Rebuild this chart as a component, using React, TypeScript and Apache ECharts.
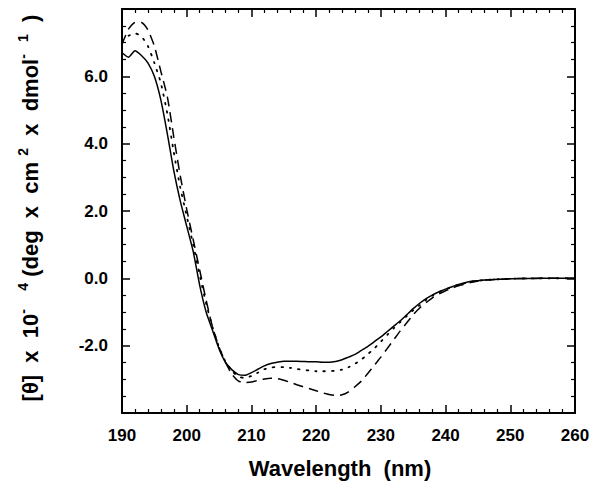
import React, { useEffect, useRef } from 'react';
import * as echarts from 'echarts';

const wavelengths = [
  190, 191, 192, 193, 194, 195, 196, 197, 198, 199,
  200, 201, 202, 203, 204, 205, 206, 207, 208, 209,
  210, 211, 212, 213, 214, 215, 216, 217, 218, 219,
  220, 221, 222, 223, 224, 225, 226, 227, 228, 229,
  230, 231, 232, 233, 234, 235, 236, 237, 238, 239,
  240, 241, 242, 243, 244, 245, 246, 247, 248, 250, 255, 260,
];

const solidSeries = [
  6.70, 6.57, 6.76, 6.62, 6.40, 6.00, 5.30, 4.30, 3.20, 2.30,
  1.55, 0.80, -0.20, -1.00, -1.55, -2.10, -2.50, -2.72, -2.86, -2.88,
  -2.80, -2.70, -2.60, -2.53, -2.49, -2.46, -2.46, -2.46, -2.47, -2.48,
  -2.48, -2.49, -2.49, -2.47, -2.42, -2.34, -2.26, -2.14, -2.02, -1.88,
  -1.74, -1.58, -1.42, -1.26, -1.08, -0.90, -0.74, -0.60, -0.49, -0.40,
  -0.32, -0.25, -0.18, -0.13, -0.09, -0.07, -0.05, -0.04, -0.03, -0.01, 0, 0,
];

const dottedSeries = [
  7.05, 7.20, 7.28, 7.18, 6.90, 6.40, 5.80, 4.90, 3.75, 2.70,
  1.85, 1.00, 0.10, -0.75, -1.45, -2.05, -2.48, -2.75, -2.92, -2.96,
  -2.90, -2.80, -2.70, -2.65, -2.63, -2.64, -2.66, -2.69, -2.72, -2.74,
  -2.76, -2.76, -2.76, -2.74, -2.71, -2.64, -2.54, -2.41, -2.25, -2.08,
  -1.88, -1.68, -1.48, -1.30, -1.12, -0.95, -0.80, -0.64, -0.51, -0.41,
  -0.33, -0.26, -0.19, -0.14, -0.10, -0.07, -0.05, -0.04, -0.03, -0.01, 0, 0,
];

const dashedSeries = [
  6.95, 7.40, 7.60, 7.60, 7.38, 6.90, 6.15, 5.40, 4.20, 3.05,
  2.05, 1.15, 0.25, -0.65, -1.45, -2.05, -2.50, -2.85, -3.05, -3.10,
  -3.08, -3.03, -2.99, -2.97, -2.98, -3.03, -3.09, -3.16, -3.22, -3.28,
  -3.34, -3.40, -3.45, -3.48, -3.46, -3.37, -3.22, -3.05, -2.82, -2.58,
  -2.34, -2.08, -1.82, -1.56, -1.32, -1.08, -0.88, -0.72, -0.57, -0.46,
  -0.37, -0.29, -0.22, -0.17, -0.12, -0.08, -0.05, -0.04, -0.03, -0.01, 0, 0,
];

const xMin = 190;
const xMax = 260;
const xInterval = 10;
const yMin = -4;
const yMax = 8;
const yInterval = 2;
const yLabelsShown = ['-2.0', '0.0', '2.0', '4.0', '6.0'];

const FONT = '"Liberation Sans", Arial, Helvetica, sans-serif';

export default function App() {
  const ref = useRef<HTMLDivElement>(null);

  useEffect(() => {
    document.body.style.margin = '0';
    if (!ref.current) return;
    const chart = echarts.init(ref.current, undefined, { renderer: 'svg' });

    const pairs = (vals: number[]) => wavelengths.map((w, i) => [w, vals[i]]);

    const axisLine = { show: true, onZero: false, lineStyle: { color: '#000', width: 2 } };
    const axisTick = { show: true, inside: true, length: 8, lineStyle: { color: '#000', width: 1.5 } };
    const minorTickX = { show: true, splitNumber: 5, length: 4, lineStyle: { color: '#000', width: 1.2 } };
    const minorTickY = { show: true, splitNumber: 4, length: 4, lineStyle: { color: '#000', width: 1.2 } };

    const option: any = {
      animation: false,
      backgroundColor: '#fff',
      grid: { left: 122, right: 27, top: 9, bottom: 78, containLabel: false },
      xAxis: [
        {
          type: 'value',
          min: xMin,
          max: xMax,
          interval: xInterval,
          position: 'bottom',
          axisLine,
          axisTick,
          minorTick: minorTickX,
          splitLine: { show: false },
          axisLabel: {
            margin: 14,
            color: '#000',
            fontFamily: FONT,
            fontWeight: 'bold',
            fontSize: 17,
          },
          name: 'Wavelength  (nm)',
          nameLocation: 'middle',
          nameGap: 44,
          nameTextStyle: {
            color: '#000',
            fontFamily: FONT,
            fontWeight: 'bold',
            fontSize: 22,
            padding: [0, 17, 0, 0],
          },
        },
        {
          type: 'value',
          min: xMin,
          max: xMax,
          interval: xInterval,
          position: 'top',
          axisLine,
          axisTick,
          minorTick: minorTickX,
          splitLine: { show: false },
          axisLabel: { show: false },
        },
      ],
      yAxis: [
        {
          type: 'value',
          min: yMin,
          max: yMax,
          interval: yInterval,
          position: 'left',
          axisLine,
          axisTick,
          minorTick: minorTickY,
          splitLine: { show: false },
          axisLabel: {
            margin: 14,
            color: '#000',
            fontFamily: FONT,
            fontWeight: 'bold',
            fontSize: 17,
            formatter: (v: number) => {
              const s = v.toFixed(1);
              return yLabelsShown.indexOf(s) >= 0 ? s : '';
            },
          },
          name: '[θ]  x  10{sup|-}   {sup|4} (deg  x  cm {sup|2}  x  dmol{sup|-}  {sup|1}  )',
          nameLocation: 'middle',
          nameRotate: 90,
          nameGap: 78,
          nameTextStyle: {
            color: '#000',
            fontFamily: FONT,
            fontWeight: 'bold',
            fontSize: 22,
            lineHeight: 28,
            padding: [0, 0, 0, 6],
            rich: {
              sup: {
                color: '#000',
                fontFamily: FONT,
                fontWeight: 'bold',
                fontSize: 14,
                verticalAlign: 'top',
                lineHeight: 28,
                padding: [0, 0, 12, 0],
              },
            },
          },
        },
        {
          type: 'value',
          min: yMin,
          max: yMax,
          interval: yInterval,
          position: 'right',
          axisLine,
          axisTick,
          minorTick: minorTickY,
          splitLine: { show: false },
          axisLabel: { show: false },
        },
      ],
      series: [
        {
          type: 'line',
          name: 'solid',
          data: pairs(solidSeries),
          showSymbol: false,
          smooth: 0.2,
          lineStyle: { color: '#000', width: 1.5, type: 'solid' },
        },
        {
          type: 'line',
          name: 'dotted',
          data: pairs(dottedSeries),
          showSymbol: false,
          smooth: 0.2,
          lineStyle: { color: '#000', width: 1.8, type: [1.5, 7], cap: 'round' },
        },
        {
          type: 'line',
          name: 'dashed',
          data: pairs(dashedSeries),
          showSymbol: false,
          smooth: 0.2,
          lineStyle: { color: '#000', width: 1.5, type: [10, 6] },
        },
      ],
    };

    chart.setOption(option);
    return () => chart.dispose();
  }, []);

  return <div ref={ref} style={{ width: 602, height: 491 }} />;
}
